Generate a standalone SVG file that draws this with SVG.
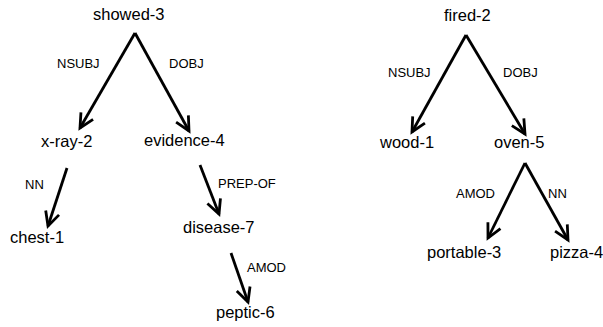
<svg xmlns="http://www.w3.org/2000/svg" width="603" height="327" viewBox="0 0 603 327">
  <style>
    .node text { font-family: "Liberation Sans", Arial, sans-serif; font-size: 16.5px; fill: #000; }
    .lbl { font-family: "Liberation Sans", Arial, sans-serif; font-size: 13px; fill: #000; }
    .edge { stroke: #000; stroke-width: 2.8; fill: none; marker-end: url(#open); }
  </style>
  <defs>
    <marker id="open" markerUnits="userSpaceOnUse" viewBox="-16 -9 20 18" markerWidth="20" markerHeight="18" refX="0" refY="0" orient="auto" overflow="visible">
      <path d="M -14,-7 L 0,0 L -14,7" fill="none" stroke="#000" stroke-width="2.8" stroke-linejoin="miter"/>
    </marker>
  </defs>
  <rect width="603" height="327" fill="#fff"/>

  <!-- dependency edges -->
  <g id="connectors">
    <line class="edge" x1="135" y1="33" x2="80" y2="128"/>
    <line class="edge" x1="135" y1="33" x2="189" y2="131"/>
    <line class="edge" x1="67" y1="168" x2="48" y2="226"/>
    <line class="edge" x1="200" y1="165" x2="219" y2="214"/>
    <line class="edge" x1="231" y1="253" x2="248" y2="302"/>
    <line class="edge" x1="466" y1="35" x2="412" y2="132"/>
    <line class="edge" x1="466" y1="35" x2="525" y2="134"/>
    <line class="edge" x1="525" y1="163" x2="488" y2="238"/>
    <line class="edge" x1="525" y1="163" x2="568" y2="240"/>

    <text class="lbl" x="57" y="68">NSUBJ</text>
    <text class="lbl" x="169" y="68">DOBJ</text>
    <text class="lbl" x="25" y="189">NN</text>
    <text class="lbl" x="218" y="188">PREP-OF</text>
    <text class="lbl" x="247" y="272">AMOD</text>
    <text class="lbl" x="388" y="77">NSUBJ</text>
    <text class="lbl" x="503" y="77">DOBJ</text>
    <text class="lbl" x="456" y="198">AMOD</text>
    <text class="lbl" x="548" y="198">NN</text>
  </g>

  <!-- tree 1 -->
  <g id="showed-3" class="node"><text x="93" y="20">showed-3</text></g>
  <g id="x-ray-2" class="node"><text x="41" y="147">x-ray-2</text></g>
  <g id="evidence-4" class="node"><text x="144" y="146">evidence-4</text></g>
  <g id="chest-1" class="node"><text x="10" y="243">chest-1</text></g>
  <g id="disease-7" class="node"><text x="183" y="233">disease-7</text></g>
  <g id="peptic-6" class="node"><text x="216" y="318">peptic-6</text></g>

  <!-- tree 2 -->
  <g id="fired-2" class="node"><text x="444" y="21">fired-2</text></g>
  <g id="wood-1" class="node"><text x="380" y="148">wood-1</text></g>
  <g id="oven-5" class="node"><text x="494" y="148">oven-5</text></g>
  <g id="portable-3" class="node"><text x="427" y="258">portable-3</text></g>
  <g id="pizza-4" class="node"><text x="550" y="258">pizza-4</text></g>
</svg>
